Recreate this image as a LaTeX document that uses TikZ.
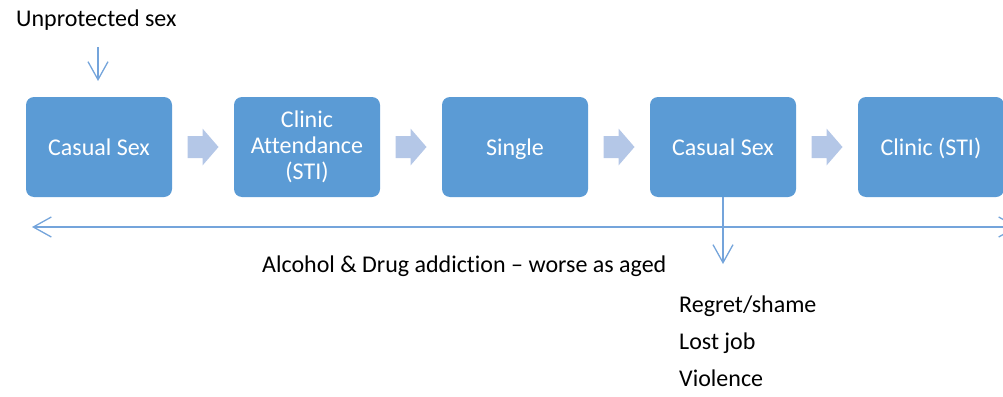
\documentclass[tikz,border=0pt]{standalone}
\usepackage{fontspec}
\setmainfont{Carlito}[Ligatures=NoCommon]
\usetikzlibrary{arrows.meta,calc}
\definecolor{boxblue}{HTML}{5B9BD5}
\definecolor{chevblue}{HTML}{B4C7E7}
\definecolor{lineblue}{HTML}{74A4DB}
\tikzset{
  stepbox/.style={rectangle, rounded corners=8pt, fill=boxblue, text=white,
    minimum width=146pt, minimum height=100pt, inner sep=0pt,
    align=center, font=\fontsize{24}{26}\selectfont},
  flat/.style={text depth=0pt},
  lbl/.style={anchor=base west, inner sep=0pt, font=\fontsize{24}{26}\selectfont},
  barb/.tip={Straight Barb[length=18pt,width=20pt,line width=1.3pt]},
  thinarrow/.style={draw=lineblue, line width=1.3pt, -barb},
  chevron/.style={fill=chevblue}
}
\newcommand{\chev}[1]{%
  \fill[chevron] (#1) ++(-15.5,-11) -- ++(15,0) -- ++(0,-7.5) -- ++(16,18.5)
    -- ++(-16,18.5) -- ++(0,-7.5) -- ++(-15,0) -- cycle;}
\begin{document}
\begin{tikzpicture}[x=1pt,y=-1pt]
  \useasboundingbox (0,0) rectangle (1003,396);
  \clip (0,0) rectangle (1003,396);

  % the chain of stages
  \node[stepbox] (b1) at (99,147) {Casual Sex};
  \node[stepbox] (b2) at (307,147) {Clinic\\Attendance\\(STI)};
  \node[stepbox,flat] (b3) at (515,147) {Single};
  \node[stepbox] (b4) at (723,147) {Casual Sex};
  \node[stepbox,flat] (b5) at (931,147) {Clinic (STI)};

  % block arrows between stages
  \foreach \a/\b in {b1/b2,b2/b3,b3/b4,b4/b5}{
    \path ($(\a.east)!0.5!(\b.west)$) coordinate (m\a);
    \chev{m\a}
  }

  % lead-in
  \node[lbl] (unp) at (16,27) {Unprotected sex};
  \coordinate (u1) at (98,47);
  \coordinate (u2) at (98,81);
  \draw[thinarrow] (u1) -- (u2);

  % time line across the whole chain
  \coordinate (tl) at (32,227);
  \coordinate (tr) at (1018,227);
  \draw[thinarrow, barb-barb] (tl) -- (tr);
  \node[lbl] (alc) at (262,272) {Alcohol \& Drug addiction – worse as aged};

  % consequences
  \coordinate (c1) at (b4.south |- 0,264);
  \draw[thinarrow] (b4.south) -- (c1);
  \node[lbl] (r1) at (679,312) {Regret/shame};
  \node[lbl] (r2) at (679,349) {Lost job};
  \node[lbl] (r3) at (679,386) {Violence};
\end{tikzpicture}
\end{document}
